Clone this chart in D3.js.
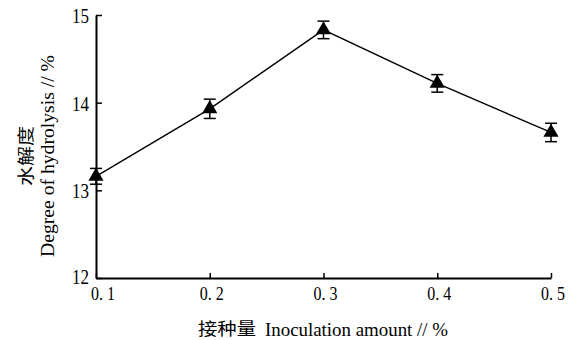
<!DOCTYPE html>
<html lang="zh">
<head>
<meta charset="UTF-8">
<title>Degree of hydrolysis vs inoculation amount</title>
<script src="https://d3js.org/d3.v7.min.js"></script>
<style>
    body { margin: 0; background: #fff; }
    text { font-family: "Liberation Serif", "Noto Sans CJK SC", serif; fill: #000; }
    .cjk { font-family: "Noto Sans CJK SC", sans-serif; }
</style>
</head>
<body>
<svg id="chart" width="578" height="340"></svg>
<script>
    // values
    let inoculation = [0.1, 0.2, 0.3, 0.4, 0.5];
    let hydrolysis = [13.16, 13.93, 14.83, 14.22, 13.66];
    let errors = [0.09, 0.11, 0.10, 0.10, 0.105];
    let xTicks = [0.1, 0.2, 0.3, 0.4, 0.5];
    let xTickLabels = ["0. 1", "0. 2", "0. 3", "0. 4", "0. 5"];
    let yTicks = [12, 13, 14, 15];

    let svg = d3.select('#chart');
    let x = d3.scaleLinear().domain([0.1, 0.5]).range([96, 551]);
    let y = d3.scaleLinear().domain([12, 15]).range([278, 15]);

    // axes, ticks pointing inward
    svg.append('g').attr('transform', 'translate(0,278)')
        .call(d3.axisBottom(x).tickValues(xTicks).tickSizeInner(-5).tickSizeOuter(0).tickFormat(''));
    svg.append('g').attr('transform', 'translate(96,0)')
        .call(d3.axisLeft(y).tickValues(yTicks).tickSizeInner(-6).tickSizeOuter(0).tickFormat(''));
    svg.selectAll('.domain').attr('stroke', '#000').attr('stroke-width', 2);
    svg.selectAll('.tick line').attr('stroke', '#000').attr('stroke-width', 1.5);

    // tick labels
    svg.append('g').selectAll('text').data(xTicks).enter().append('text')
        .attr('x', function (d, i) { return x(d) + (i === 0 ? 7 : 2); })
        .attr('y', 300)
        .attr('text-anchor', 'middle')
        .attr('font-size', 19)
        .attr('textLength', 24).attr('lengthAdjust', 'spacingAndGlyphs')
        .text(function (d, i) { return xTickLabels[i]; });
    svg.append('g').selectAll('text').data(yTicks).enter().append('text')
        .attr('x', 89)
        .attr('y', function (d) { return y(d) + (d === 12 ? 6 : 8); })
        .attr('text-anchor', 'end')
        .attr('font-size', 21)
        .attr('textLength', 17).attr('lengthAdjust', 'spacingAndGlyphs')
        .text(function (d) { return d; });

    // axis titles
    svg.append('text').attr('class', 'cjk')
        .attr('x', 198).attr('y', 335).attr('font-size', 17)
        .attr('textLength', 58).attr('lengthAdjust', 'spacingAndGlyphs')
        .text('接种量');
    svg.append('text')
        .attr('x', 265).attr('y', 336).attr('font-size', 19)
        .attr('textLength', 183).attr('lengthAdjust', 'spacingAndGlyphs')
        .text('Inoculation amount // %');

    let yTitle = svg.append('g').attr('transform', 'translate(0,156) rotate(-90)');
    yTitle.append('text').attr('class', 'cjk')
        .attr('x', 0).attr('y', 32).attr('text-anchor', 'middle').attr('font-size', 17)
        .attr('textLength', 60).attr('lengthAdjust', 'spacingAndGlyphs')
        .text('水解度');
    yTitle.append('text')
        .attr('x', 0).attr('y', 54).attr('text-anchor', 'middle').attr('font-size', 19)
        .attr('textLength', 202).attr('lengthAdjust', 'spacingAndGlyphs')
        .text('Degree of hydrolysis // %');

    // line
    let line = d3.line().x(function (d, i) { return x(inoculation[i]); }).y(function (d) { return y(d); });
    svg.append('path').datum(hydrolysis)
        .attr('d', line).attr('fill', 'none').attr('stroke', '#000').attr('stroke-width', 1.4);

    // error bars
    let eb = svg.append('g').attr('stroke', '#000').attr('stroke-width', 1.5);
    hydrolysis.forEach(function (v, i) {
        let cx = x(inoculation[i]);
        let top = y(v + errors[i]), bot = y(v - errors[i]);
        eb.append('line').attr('x1', cx).attr('x2', cx).attr('y1', top).attr('y2', bot);
        eb.append('line').attr('x1', cx - 6).attr('x2', cx + 6).attr('y1', top).attr('y2', top);
        eb.append('line').attr('x1', cx - 6).attr('x2', cx + 6).attr('y1', bot).attr('y2', bot);
    });

    // triangle markers
    svg.append('g').selectAll('path').data(hydrolysis).enter().append('path')
        .attr('d', d3.symbol().type(d3.symbolTriangle).size(100))
        .attr('transform', function (d, i) { return 'translate(' + x(inoculation[i]) + ',' + y(d) + ')'; })
        .attr('fill', '#000');
</script>
</body>
</html>
